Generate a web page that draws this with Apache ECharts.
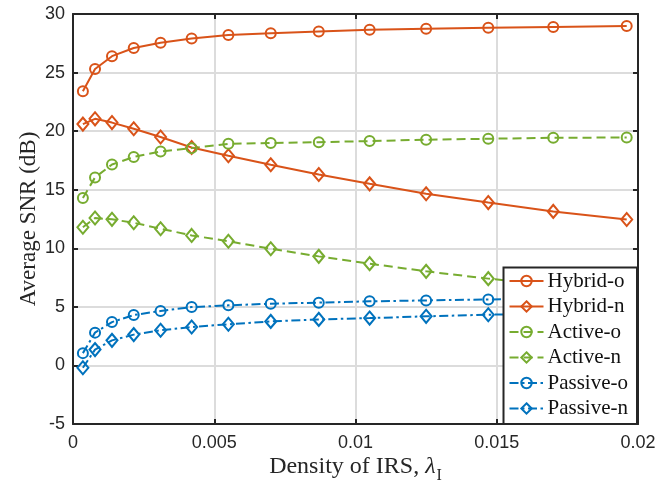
<!DOCTYPE html>
<html>
<head>
<meta charset="utf-8">
<script src="https://cdn.jsdelivr.net/npm/echarts@6/dist/echarts.min.js"></script>
<style>
  html, body { margin: 0; padding: 0; background: #fff; }
  #chart { width: 671px; height: 483px; }
</style>
</head>
<body>
<div id="chart"></div>
<script>
// IRS density (x axis)
const density = [0.00035, 0.00078, 0.00138, 0.00215, 0.0031, 0.0042, 0.0055, 0.007, 0.0087, 0.0105, 0.0125, 0.0147, 0.017, 0.0196];

// average SNR in dB
const hybridO = [23.4, 25.3, 26.4, 27.1, 27.55, 27.9, 28.2, 28.35, 28.5, 28.65, 28.75, 28.83, 28.9, 28.97];
const hybridN = [20.6, 21.05, 20.73, 20.2, 19.5, 18.6, 17.9, 17.13, 16.3, 15.5, 14.66, 13.9, 13.15, 12.45];
const activeO = [14.3, 16.05, 17.15, 17.8, 18.27, 18.55, 18.92, 18.98, 19.06, 19.15, 19.27, 19.35, 19.43, 19.46];
const activeN = [11.8, 12.58, 12.47, 12.18, 11.67, 11.1, 10.6, 9.96, 9.31, 8.69, 8.03, 7.41, 6.8, 6.2];
const passiveO = [1.05, 2.8, 3.7, 4.3, 4.65, 4.98, 5.13, 5.27, 5.36, 5.47, 5.55, 5.63, 5.7, 5.75];
const passiveN = [-0.2, 1.35, 2.14, 2.63, 3.0, 3.28, 3.51, 3.76, 3.93, 4.04, 4.19, 4.33, 4.42, 4.5];

const xTicks = { min: 0, max: 0.02, step: 0.005 };
const yTicks = { min: -5, max: 30, step: 5 };

const ORANGE = '#D95319';
const GREEN = '#77AC30';
const BLUE = '#0072BD';
const INK = '#262626';
const SERIF = '"Liberation Serif", "Times New Roman", serif';
const SANS = '"Liberation Sans", Arial, sans-serif';

const DASH = [9, 5];
const DASHDOT = [9, 3.5, 2.5, 3.5];

// build one line series
function makeSeries(name, values, color, lineType, symbol) {
  return {
    name: name,
    type: 'line',
    data: density.map((x, i) => [x, values[i]]),
    symbol: symbol,
    symbolSize: symbol === 'diamond' ? [11, 13] : 10,
    showSymbol: true,
    lineStyle: { color: color, width: 2, type: lineType },
    itemStyle: { color: 'rgba(255,255,255,0)', borderColor: color, borderWidth: 2 },
    emphasis: { disabled: true },
    animation: false,
    z: 3
  };
}

const chart = echarts.init(document.getElementById('chart'));

const axisBase = {
  type: 'value',
  axisLine: { show: true, onZero: false, lineStyle: { color: INK, width: 2 } },
  axisTick: { show: true, inside: true, length: 5, lineStyle: { color: INK, width: 2 } }
};

const option = {
  backgroundColor: '#fff',
  animation: false,
  grid: { left: 73, right: 33, top: 14, bottom: 59, containLabel: false, outerBoundsMode: 'none' },
  xAxis: [
    Object.assign({}, axisBase, {
      min: xTicks.min, max: xTicks.max, interval: xTicks.step,
      position: 'bottom',
      axisLabel: { color: INK, fontFamily: SANS, fontSize: 18, margin: 10 },
      splitLine: { show: true, lineStyle: { color: '#dcdcdc', width: 2 } },
      name: '{a|Density of IRS, }{l|λ}{s|I}',
      nameLocation: 'middle',
      nameGap: 28,
      nameMoveOverlap: false,
      nameTextStyle: {
        color: INK, fontFamily: SERIF, fontSize: 24,
        rich: {
          a: { fontFamily: SERIF, fontSize: 24, color: INK, lineHeight: 27, verticalAlign: 'bottom' },
          l: { fontFamily: SERIF, fontSize: 24, fontStyle: 'italic', color: INK, lineHeight: 27, verticalAlign: 'bottom' },
          s: { fontFamily: SERIF, fontSize: 16, color: INK, lineHeight: 19, verticalAlign: 'bottom', padding: [0, 0, -5, 1] }
        }
      }
    }),
    Object.assign({}, axisBase, {
      min: xTicks.min, max: xTicks.max, interval: xTicks.step,
      position: 'top',
      axisLabel: { show: false },
      splitLine: { show: false }
    })
  ],
  yAxis: [
    Object.assign({}, axisBase, {
      min: yTicks.min, max: yTicks.max, interval: yTicks.step,
      position: 'left',
      axisLabel: { color: INK, fontFamily: SANS, fontSize: 18, margin: 8 },
      splitLine: { show: true, lineStyle: { color: '#dcdcdc', width: 2 } },
      name: 'Average SNR (dB)',
      nameLocation: 'middle',
      nameGap: 33,
      nameMoveOverlap: false,
      nameTextStyle: { color: INK, fontFamily: SERIF, fontSize: 23 }
    }),
    Object.assign({}, axisBase, {
      min: yTicks.min, max: yTicks.max, interval: yTicks.step,
      position: 'right',
      axisLabel: { show: false },
      splitLine: { show: false }
    })
  ],
  legend: {
    orient: 'vertical',
    right: 34,
    bottom: 59,
    backgroundColor: '#fff',
    borderColor: INK,
    borderWidth: 2,
    borderRadius: 0,
    padding: [3, 9, 5, 5],
    itemWidth: 34,
    itemHeight: 13,
    itemGap: 4.5,
    textStyle: { color: '#111', fontFamily: SERIF, fontSize: 21, lineHeight: 21, padding: [0, 0, 0, -1] },
    data: ['Hybrid-o', 'Hybrid-n', 'Active-o', 'Active-n', 'Passive-o', 'Passive-n'],
    z: 10
  },
  series: [
    makeSeries('Hybrid-o', hybridO, ORANGE, 'solid', 'circle'),
    makeSeries('Hybrid-n', hybridN, ORANGE, 'solid', 'diamond'),
    makeSeries('Active-o', activeO, GREEN, DASH, 'circle'),
    makeSeries('Active-n', activeN, GREEN, DASH, 'diamond'),
    makeSeries('Passive-o', passiveO, BLUE, DASHDOT, 'circle'),
    makeSeries('Passive-n', passiveN, BLUE, DASHDOT, 'diamond')
  ]
};

chart.setOption(option);
</script>
</body>
</html>
